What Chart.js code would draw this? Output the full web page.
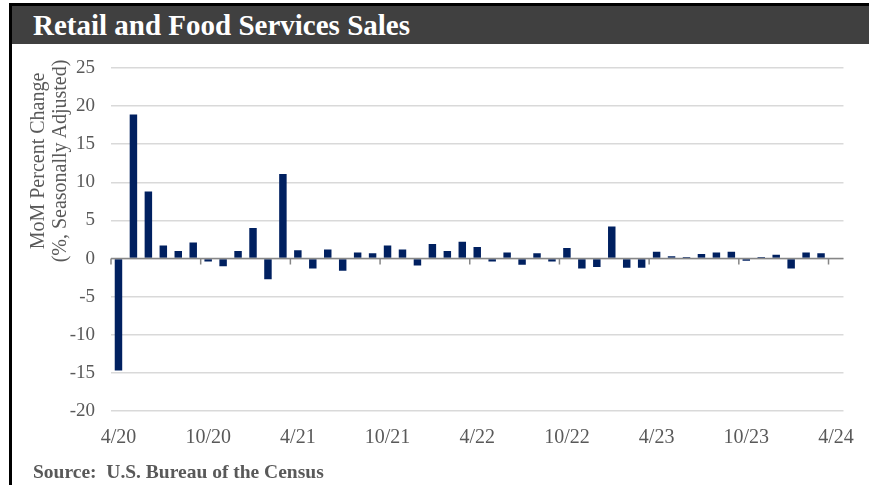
<!DOCTYPE html>
<html>
<head>
<meta charset="utf-8">
<script src="https://cdn.jsdelivr.net/npm/chart.js@4.4.1/dist/chart.umd.min.js"></script>
<style>
  html, body { margin: 0; padding: 0; background: #fff; }
  #wrap { position: relative; width: 869px; height: 485px; overflow: hidden; background: #fff; }
  #topline { position: absolute; left: 9px; top: 3px; width: 860px; height: 3px; background: #000; }
  #leftline { position: absolute; left: 9px; top: 3px; width: 3px; height: 482px; background: #000; }
  #titlebar { position: absolute; left: 12px; top: 6px; width: 857px; height: 38px; background: #404040; }
  #title { position: absolute; left: 33px; top: 6px; height: 38px; line-height: 38px; color: #fff;
           font-family: 'Liberation Serif', serif; font-weight: bold; font-size: 29px; white-space: nowrap; }
  #ytitle { position: absolute; left: 48px; top: 161px; width: 260px; transform: translate(-50%, -50%) rotate(-90deg);
            text-align: center; color: #595959; font-family: 'Liberation Serif', serif; font-size: 20px; line-height: 22px; white-space: nowrap; }
  #source { position: absolute; left: 33px; top: 461px; color: #595959; font-family: 'Liberation Serif', serif;
            font-weight: bold; font-size: 19.5px; line-height: 22px; white-space: pre; }
  canvas { position: absolute; left: 0; top: 0; }
</style>
</head>
<body>
<div id="wrap">
  <canvas id="c" width="869" height="485"></canvas>
  <div id="titlebar"></div>
  <div id="topline"></div>
  <div id="leftline"></div>
  <div id="title">Retail and Food Services Sales</div>
  <div id="ytitle">MoM Percent Change<br>(%, Seasonally Adjusted)</div>
  <div id="source">Source:  U.S. Bureau of the Census</div>
</div>
<script>
const months = [
  '4/20','5/20','6/20','7/20','8/20','9/20','10/20','11/20','12/20',
  '1/21','2/21','3/21','4/21','5/21','6/21','7/21','8/21','9/21','10/21','11/21','12/21',
  '1/22','2/22','3/22','4/22','5/22','6/22','7/22','8/22','9/22','10/22','11/22','12/22',
  '1/23','2/23','3/23','4/23','5/23','6/23','7/23','8/23','9/23','10/23','11/23','12/23',
  '1/24','2/24','3/24','4/24'
];
const momChange = [
  -14.7, 18.9, 8.8, 1.7, 1.0, 2.1, -0.4, -1.0, 1.0,
  4.0, -2.7, 11.1, 1.1, -1.3, 1.2, -1.6, 0.8, 0.7, 1.7, 1.2, -0.9,
  1.9, 1.0, 2.2, 1.5, -0.4, 0.8, -0.8, 0.7, -0.4, 1.4, -1.3, -1.1,
  4.2, -1.2, -1.2, 0.9, 0.3, 0.2, 0.6, 0.8, 0.9, -0.3, 0.2, 0.5,
  -1.3, 0.8, 0.7, null
];
const yTicks = { min: -20, max: 25, step: 5 };
const labelEvery = 6;

const zeroAxis = {
  id: 'zeroAxis',
  afterDatasetsDraw(chart) {
    const { ctx, chartArea } = chart;
    const xs = chart.scales.x, ys = chart.scales.y;
    const y0 = ys.getPixelForValue(0);
    const half = (xs.getPixelForValue(1) - xs.getPixelForValue(0)) / 2;
    ctx.save();
    ctx.strokeStyle = '#868686';
    ctx.lineWidth = 1.5;
    ctx.beginPath();
    ctx.moveTo(chartArea.left, y0);
    ctx.lineTo(chartArea.right, y0);
    for (let i = 0; i < months.length; i += labelEvery) {
      const x = xs.getPixelForValue(i) - half;
      ctx.moveTo(x, y0);
      ctx.lineTo(x, y0 + 6);
    }
    ctx.stroke();
    ctx.restore();
  }
};

Chart.defaults.font.family = "'Liberation Serif', serif";
new Chart(document.getElementById('c'), {
  type: 'bar',
  data: {
    labels: months,
    datasets: [{
      data: momChange,
      backgroundColor: '#002060',
      categoryPercentage: 1.0,
      barPercentage: 0.5
    }]
  },
  options: {
    responsive: false,
    animation: false,
    devicePixelRatio: 1,
    layout: { padding: { top: 68, right: 23, left: 0, bottom: 0 } },
    plugins: { legend: { display: false }, tooltip: { enabled: false } },
    scales: {
      x: {
        grid: { display: false, drawTicks: false },
        border: { display: false },
        ticks: {
          autoSkip: false, maxRotation: 0, minRotation: 0, padding: 15,
          color: '#595959', font: { size: 20 },
          callback: (v, i) => (i % labelEvery === 0 ? months[i] : '')
        },
        afterFit: s => { s.height = 74; }
      },
      y: {
        min: yTicks.min, max: yTicks.max,
        grid: { color: '#d9d9d9', lineWidth: 1.5, drawTicks: false },
        border: { display: false },
        ticks: { stepSize: yTicks.step, padding: 16, color: '#595959', font: { size: 19 } },
        afterFit: s => { s.width = 111; }
      }
    }
  },
  plugins: [zeroAxis]
});
</script>
</body>
</html>
